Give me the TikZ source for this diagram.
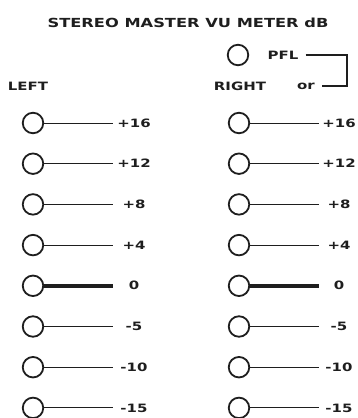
\documentclass[tikz,border=0pt]{standalone}
\usepackage{fontspec}
\usepackage{tikz}
\usetikzlibrary{positioning,calc}
\newfontfamily\panelfont[FakeStretch=1.3]{DejaVu Sans}
\definecolor{ink}{HTML}{1E1E1E}
\tikzset{
  font=\panelfont\bfseries\fontsize{11.5}{11.5}\selectfont,
  lamp/.style    = {circle, draw=ink, line width=1.8pt, minimum size=20.5pt,
                    inner sep=0pt},
  tick/.style    = {draw=ink, line width=0.9pt},
  zerotick/.style= {draw=ink, line width=3.6pt},
  level/.style   = {text=ink, inner sep=1pt},
  head/.style    = {text=ink, inner sep=1pt},
  wire/.style    = {draw=ink, line width=1.3pt},
}

\begin{document}
\begin{tikzpicture}[x=1pt, y=-1pt]
\useasboundingbox (0,0) rectangle (358,418);

% ---------------- heading ---------------------------------------------
\node[head, font=\panelfont\bfseries\fontsize{12.5}{12.5}\selectfont] at (188,23) (title)
  {STEREO MASTER VU METER dB};

% ---------------- pfl switch ------------------------------------------
\node[lamp] at (238,55) (pfl) {};
\node[head] at (283,55) (pfltxt) {PFL};
\node[head] at (28,86) (left) {LEFT};
\node[head] at (240,86) (right) {RIGHT};
\node[head] at (306,86) (or) {or};
\coordinate (bk) at (347,55);
\coordinate (bj) at (347,86);
\draw[wire] ([xshift=6pt]pfltxt.east) -- (bk) -- (bj) -- ([xshift=6pt]or.east);

% ---------------- meter columns ---------------------------------------
\foreach \lab/\sty [count=\i] in {+16/tick,+12/tick,+8/tick,+4/tick,
                                  0/zerotick,-5/tick,-10/tick,-15/tick} {
  \pgfmathsetmacro{\y}{82.3+40.7*\i}
  % left
  \node[lamp] at (33,\y) (l\i) {};
  \coordinate (le\i) at (113,\y);
  \node[level] at (134,\y) (ll\i) {\lab};
  \draw[\sty] (l\i.east) -- (le\i);
  % right
  \node[lamp] at (239,\y) (r\i) {};
  \coordinate (re\i) at (319,\y);
  \node[level] at (339,\y) (rl\i) {\lab};
  \draw[\sty] (r\i.east) -- (re\i);
}

\end{tikzpicture}
\end{document}
